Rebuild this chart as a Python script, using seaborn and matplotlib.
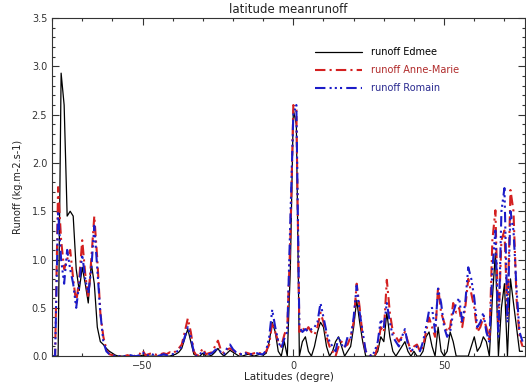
import numpy as np
import pandas as pd
import seaborn as sns
import matplotlib
matplotlib.use("Agg")
import matplotlib.pyplot as plt
from matplotlib.ticker import MultipleLocator, FormatStrFormatter

### Data (1 degree steps from -80 to 76) ###

latitudes = np.arange(-80, 77)

runoff_edmee = [
    0, 0, 0, 2.93, 2.6, 1.45, 1.5, 1.45, 0.9, 0.68,            # -80..-71
    0.92, 0.75, 0.55, 0.96, 0.75, 0.3, 0.15, 0.12, 0.08, 0.05,  # -70..-61
    0.03, 0.01, 0, 0, 0, 0, 0, 0, 0, 0,                         # -60..-51
    0.01, 0, 0, 0, 0, 0, 0, 0, 0, 0,                            # -50..-41
    0.01, 0.02, 0.04, 0.08, 0.18, 0.28, 0.15, 0.02, 0, 0,       # -40..-31
    0.03, 0, 0, 0.01, 0.04, 0.08, 0.03, 0, 0.03, 0.06,          # -30..-21
    0.04, 0.02, 0, 0, 0.01, 0.02, 0.01, 0, 0.01, 0.02,          # -20..-11
    0.01, 0.03, 0.15, 0.35, 0.25, 0.05, 0, 0.15, 0, 0.9,        # -10..-1
    2.55, 2.4, 0, 0.15, 0.2, 0.05, 0, 0.1, 0.25, 0.35,          # 0..9
    0.3, 0.1, 0, 0.05, 0.15, 0.2, 0.1, 0, 0.05, 0.1,            # 10..19
    0.3, 0.58, 0.35, 0.15, 0, 0, 0, 0, 0.05, 0.2,               # 20..29
    0.15, 0.45, 0.2, 0.05, 0, 0.05, 0.1, 0.15, 0.05, 0,         # 30..39
    0.05, 0, 0, 0.05, 0.2, 0.25, 0.1, 0, 0.3, 0.05,             # 40..49
    0, 0.05, 0.25, 0.15, 0, 0, 0, 0, 0, 0.1,                    # 50..59
    0.2, 0.05, 0.1, 0.2, 0.15, 0, 0.6, 1.07, 0, 0.5,            # 60..69
    0.75, 0, 0.8, 0.55, 0.3, 0.05, 0.05,                        # 70..76
]

runoff_anne_marie = [
    0, 0, 1.75, 1.2, 0.9, 1.0, 1.1, 0.8, 0.55, 0.8,
    1.2, 0.85, 0.6, 1.0, 1.45, 1.0, 0.45, 0.2, 0.07, 0.02,
    0.01, 0, 0, 0, 0, 0.01, 0, 0, 0.01, 0.02,
    0.06, 0.01, 0.02, 0.03, 0.02, 0.01, 0.02, 0.03, 0.02, 0.04,
    0.03, 0.05, 0.08, 0.12, 0.25, 0.39, 0.25, 0.05, 0, 0.03,
    0.08, 0.02, 0.03, 0.04, 0.1, 0.16, 0.06, 0.03, 0.07, 0.08,
    0.06, 0.04, 0.02, 0.03, 0.04, 0.03, 0.02, 0.03, 0.04, 0.03,
    0.02, 0.05, 0.12, 0.35, 0.25, 0.15, 0.1, 0.22, 0.3, 1.2,
    2.6, 2.55, 0.25, 0.3, 0.25, 0.3, 0.25, 0.22, 0.3, 0.45,
    0.35, 0.2, 0.1, 0.05, 0, 0.1, 0.15, 0.1, 0.12, 0.2,
    0.35, 0.75, 0.5, 0.2, 0.05, 0.02, 0, 0, 0.1, 0.3,
    0.25, 0.79, 0.45, 0.25, 0.2, 0.15, 0.2, 0.25, 0.15, 0.05,
    0.1, 0.12, 0.05, 0.1, 0.25, 0.4, 0.3, 0.2, 0.72, 0.45,
    0.35, 0.25, 0.3, 0.55, 0.45, 0.5, 0.3, 0.5, 0.8, 0.65,
    0.5, 0.25, 0.3, 0.4, 0.3, 0.15, 1.2, 1.51, 0.3, 1.2,
    1.3, 0.4, 1.72, 1.5, 0.6, 0.2, 0.1,
]

runoff_romain = [
    0, 0, 1.5, 1.0, 0.75, 1.1, 0.9, 0.75, 0.5, 0.75,
    1.05, 0.8, 0.65, 0.9, 1.35, 0.9, 0.45, 0.15, 0.05, 0.02,
    0.01, 0, 0, 0, 0, 0, 0.01, 0, 0, 0.01,
    0.04, 0.01, 0.01, 0.02, 0.01, 0, 0.01, 0.02, 0.01, 0.02,
    0.02, 0.04, 0.06, 0.1, 0.2, 0.3, 0.2, 0.04, 0, 0.02,
    0.05, 0.01, 0.02, 0.03, 0.06, 0.08, 0.04, 0.02, 0.08, 0.12,
    0.07, 0.04, 0.02, 0.02, 0.03, 0.02, 0.02, 0.02, 0.03, 0.02,
    0.02, 0.06, 0.2, 0.48, 0.3, 0.15, 0.08, 0.18, 0.25, 1.4,
    2.5, 2.6, 0.3, 0.25, 0.28, 0.25, 0.28, 0.3, 0.35, 0.55,
    0.4, 0.25, 0.15, 0.1, 0.05, 0.2, 0.12, 0.08, 0.2, 0.18,
    0.4, 0.73, 0.45, 0.25, 0.05, 0.02, 0, 0.05, 0.15, 0.38,
    0.3, 0.55, 0.35, 0.2, 0.15, 0.1, 0.2, 0.28, 0.12, 0.05,
    0.08, 0.1, 0.05, 0.15, 0.3, 0.47, 0.5, 0.25, 0.7, 0.55,
    0.3, 0.2, 0.25, 0.45, 0.55, 0.6, 0.35, 0.55, 0.92, 0.8,
    0.6, 0.3, 0.35, 0.45, 0.25, 0.15, 0.9, 1.3, 0.2, 1.5,
    1.74, 0.35, 1.5, 1.3, 0.7, 0.25, 0.15,
]

series_labels = ["runoff Edmee", "runoff Anne-Marie", "runoff Romain"]

### Plot ###

sns.set_theme(style="ticks")
plt.rcParams["font.family"] = ["DejaVu Sans"]

df = pd.DataFrame({"lat": latitudes,
                   "edmee": runoff_edmee,
                   "anne": runoff_anne_marie,
                   "romain": runoff_romain})

fig = plt.figure(figsize=(5.26, 3.85), dpi=100)
ax = fig.add_axes([0.099, 0.075, 0.899, 0.878])

sns.lineplot(data=df, x="lat", y="edmee", ax=ax, color="black", linewidth=0.9,
             estimator=None, label=series_labels[0])
sns.lineplot(data=df, x="lat", y="anne", ax=ax, color="#d42020", linewidth=1.5,
             linestyle=(0, (5, 2, 1, 2)), estimator=None, label=series_labels[1])
sns.lineplot(data=df, x="lat", y="romain", ax=ax, color="#1c1cc8", linewidth=1.5,
             linestyle=(0, (5, 2, 1, 1.5, 1, 1.5, 1, 2)), estimator=None,
             label=series_labels[2])

ax.set_xlim(-80, 76.8)
ax.set_ylim(0, 3.5)
ax.xaxis.set_major_locator(MultipleLocator(50))
ax.xaxis.set_minor_locator(MultipleLocator(10))
ax.yaxis.set_major_locator(MultipleLocator(0.5))
ax.yaxis.set_minor_locator(MultipleLocator(0.1))
ax.yaxis.set_major_formatter(FormatStrFormatter("%.1f"))
ax.tick_params(which="both", direction="in", top=True, right=True,
               width=0.8, colors="#333333", labelsize=7, labelcolor="#333333")
ax.tick_params(which="major", length=5)
ax.tick_params(which="minor", length=2.5)
for s in ax.spines.values():
    s.set_linewidth(0.8)
    s.set_color("#333333")

ax.set_title("latitude meanrunoff", fontsize=8.5, color="#222222", pad=4)
ax.set_xlabel("Latitudes (degre)", fontsize=7.5, color="#222222", labelpad=1)
ax.set_ylabel("Runoff (kg.m-2.s-1)", fontsize=7, color="#222222", labelpad=6)

ax.legend(loc="upper left", bbox_to_anchor=(0.599, 0.878), bbox_transform=fig.transFigure,
          frameon=False, fontsize=7, handlelength=4.8, handletextpad=1.0,
          labelspacing=0.85, borderpad=0, borderaxespad=0,
          labelcolor=["black", "#b02a2a", "#2a2a90"])

fig.savefig("out.png", dpi=100)
